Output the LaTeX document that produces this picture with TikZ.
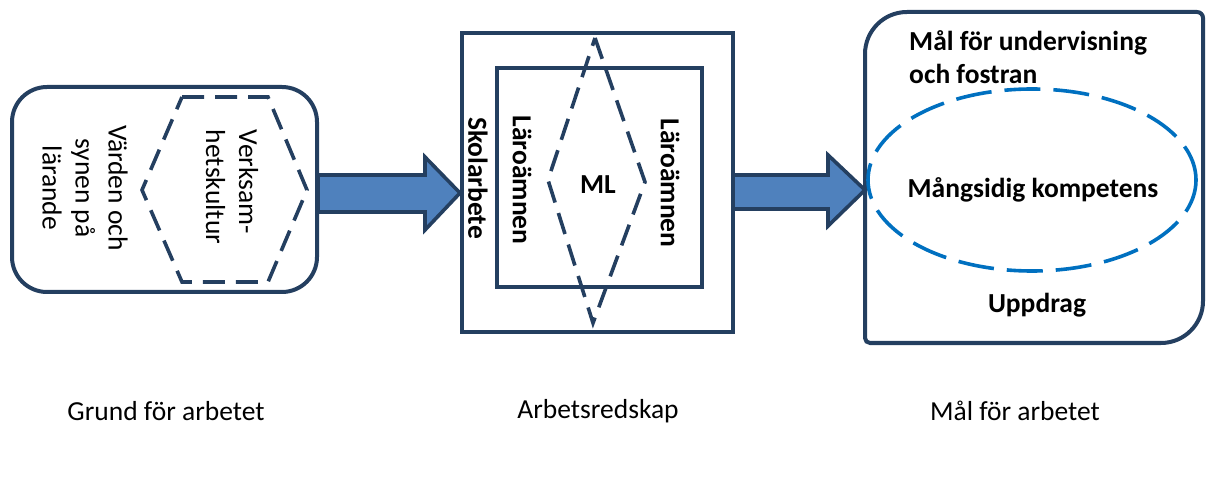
\documentclass[tikz,border=0pt]{standalone}
\usepackage{fontspec}
\setmainfont{Carlito}
\usetikzlibrary{shapes.geometric}
\definecolor{navy}{RGB}{36,63,96}
\definecolor{arrfill}{RGB}{79,129,189}
\definecolor{ellblue}{RGB}{0,112,192}
\tikzset{
  frame/.style={draw=navy, line width=4pt, inner sep=0pt, outer sep=0pt},
  dashnavy/.style={draw=navy, line width=3.6pt, dash pattern=on 22pt off 11pt},
  blockarrow/.style={draw=navy, line width=3.6pt, fill=arrfill, line join=miter},
  boxtxt/.style={font=\fontsize{27.5}{33}\selectfont, inner sep=0pt},
  boldtxt/.style={font=\fontsize{27.5}{33}\selectfont\bfseries, inner sep=0pt},
  captxt/.style={font=\fontsize{27.5}{32}\selectfont, inner sep=0pt}
}
\begin{document}
\begin{tikzpicture}[x=1pt,y=1pt]
\useasboundingbox (0,0) rectangle (1206,490);
% left box
\node[frame, rounded corners=35pt, minimum width=305pt, minimum height=205pt] (grund) at (164.5,300.5) {};
\draw[dashnavy] (182,393) -- (268,393) -- (307,300) -- (268,208) -- (182,208) -- (142,300) -- cycle;
\node[boxtxt, rotate=-90, align=left] (verk) at (232,303) {Verksam-\\hetskultur};
\node[boxtxt, rotate=-90, align=center] (vard) at (85,302) {Värden och\\synen på\\lärande};
% middle boxes
\node[frame, minimum width=271pt, minimum height=299pt] (outer) at (597.5,307) {};
\node[frame, minimum width=205pt, minimum height=219pt] (inner) at (599.5,312.5) {};
\draw[dashnavy] (595,452) -- (645,308) -- (593,167) -- (548,310) -- cycle;
\node[boldtxt, rotate=-90] (skol) at (478,312) {Skolarbete};
\node[boldtxt, rotate=-90] (laroL) at (522,310) {Läroämnen};
\node[boldtxt, rotate=-90] (laroR) at (670,307) {Läroämnen};
\node[boldtxt] (ml) at (598,305) {ML};
% right box
\coordinate (malbox) at (1034,312.5);
\draw[navy, line width=4pt] (865,436) arc[start angle=180, end angle=90, radius=42]
  -- (1197,478) arc[start angle=90, end angle=0, radius=6]
  -- (1203,189) arc[start angle=0, end angle=-90, radius=42]
  -- (870,147) arc[start angle=270, end angle=180, radius=5] -- cycle;
\node[draw=ellblue, line width=3.6pt, dash pattern=on 36pt off 13pt, ellipse, minimum width=328pt, minimum height=182pt, inner sep=0pt] (ell) at (1032,310) {};
\node[boldtxt, align=left, anchor=west] (maltxt) at (909,433) {Mål för undervisning\\och fostran};
\node[boldtxt] (mang) at (1033,300) {Mångsidig kompetens};
\node[boldtxt] (uppdrag) at (1037,185) {Uppdrag};
% block arrows
\draw[blockarrow] (318,315) -- (425,315) -- (425,333) -- (460,297) -- (425,260) -- (425,278) -- (318,278) -- cycle;
\draw[blockarrow] (733,315) -- (828,315) -- (828,335) -- (865,300) -- (828,264) -- (828,281) -- (733,281) -- cycle;
% captions
\node[captxt] (c1) at (166,79) {Grund för arbetet};
\node[captxt] (c2) at (598,79) {Arbetsredskap};
\node[captxt] (c3) at (1015,79) {Mål för arbetet};
\end{tikzpicture}
\end{document}
